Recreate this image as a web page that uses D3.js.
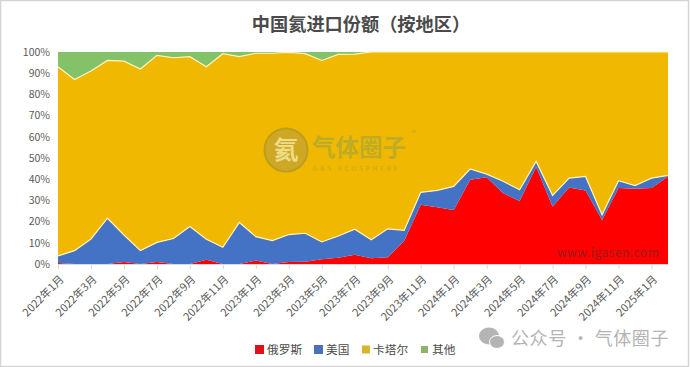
<!DOCTYPE html>
<html>
<head>
<meta charset="utf-8">
<script src="https://cdn.jsdelivr.net/npm/d3@7"></script>
<style>
  html, body { margin: 0; padding: 0; background: #fff; }
  svg { display: block; }
  text { font-family: "Noto Sans CJK SC", "Noto Sans", sans-serif; }
</style>
</head>
<body>
<div id="chart"></div>
<script>
// months on the x axis
const months = [
    "2022年1月", "2022年2月", "2022年3月", "2022年4月", "2022年5月", "2022年6月", "2022年7月", "2022年8月",
    "2022年9月", "2022年10月", "2022年11月", "2022年12月", "2023年1月", "2023年2月", "2023年3月", "2023年4月",
    "2023年5月", "2023年6月", "2023年7月", "2023年8月", "2023年9月", "2023年10月", "2023年11月", "2023年12月",
    "2024年1月", "2024年2月", "2024年3月", "2024年4月", "2024年5月", "2024年6月", "2024年7月", "2024年8月",
    "2024年9月", "2024年10月", "2024年11月", "2024年12月", "2025年1月", "2025年2月"
];
const tickMonths = months.filter((d, i) => i % 2 === 0 && i < 37);
const yTicks = [0, 10, 20, 30, 40, 50, 60, 70, 80, 90, 100];

// share of imports per region, in percent
const russia = [0.5, 0, 0, 0, 1, 0, 1, 0, 0, 2, 0, 0, 1.6, 0, 1, 1.1, 2.2, 3, 4.4, 2.7, 3.2, 11, 27.9, 26.8, 25.5, 39.7, 40.9, 33.4, 29.7, 45.7, 27.1, 36.1, 34.7, 20.8, 35.8, 35.5, 35.8, 41.3];
const usa = [3.3, 6.3, 11.8, 21.6, 12.7, 6.3, 9.2, 12, 17.7, 9.7, 7.9, 19.6, 11.3, 11, 12.9, 13.4, 8.2, 10.2, 12, 8.7, 13.4, 4.9, 5.9, 7.9, 11.1, 5.1, 1.5, 5.6, 5.3, 2.7, 5.2, 4.4, 6.6, 2.4, 3.5, 1.5, 4.7, 0.5];
const qatar = [89.2, 80.7, 79.2, 74.4, 82, 85.7, 88.2, 85.3, 80.1, 81.3, 91.3, 78.2, 86.5, 88.4, 85.9, 84.7, 85.6, 85.7, 82.6, 88.6, 83.4, 84.1, 66.2, 65.3, 63.4, 55.2, 57.6, 61, 65, 51.6, 67.7, 59.5, 58.7, 76.8, 60.7, 63, 59.5, 58.2];
const other = [7, 13, 9, 4, 4.3, 8, 1.6, 2.7, 2.2, 7, 0.8, 2.2, 0.6, 0.6, 0.2, 0.8, 4, 1.1, 1, 0, 0, 0, 0, 0, 0, 0, 0, 0, 0, 0, 0, 0, 0, 0, 0, 0, 0, 0];

const seriesNames = ["俄罗斯", "美国", "卡塔尔", "其他"];
const seriesValues = [russia, usa, qatar, other];
const colors = ["#ff0000", "#4472c4", "#f0b800", "#84c26a"];

const width = 690, height = 367;
const margin = { top: 52, right: 22, bottom: 103, left: 58 };

const svg = d3.select("#chart")
    .append("svg")
    .attr("width", width)
    .attr("height", height);

// light frame round the picture
svg.append("rect")
    .attr("x", 0.5)
    .attr("y", 0.5)
    .attr("width", width - 2)
    .attr("height", height - 1)
    .attr("fill", "#fff")
    .attr("stroke", "#d4d4d4")
    .attr("stroke-width", 1.5);

svg.append("text")
    .attr("x", 361)
    .attr("y", 31)
    .attr("text-anchor", "middle")
    .attr("font-size", 18.2)
    .attr("font-weight", 700)
    .attr("fill", "#4a4a4a")
    .text("中国氦进口份额（按地区）");

const x = d3.scalePoint()
    .domain(months)
    .range([margin.left, width - margin.right]);

const y = d3.scaleLinear()
    .domain([0, 100])
    .range([height - margin.bottom, margin.top]);

// stack the four regions
const rows = months.map((m, i) => {
    const row = { month: m };
    seriesNames.forEach((s, k) => { row[s] = seriesValues[k][i]; });
    return row;
});
const stacked = d3.stack().keys(seriesNames)(rows);

const area = d3.area()
    .x(d => x(d.data.month))
    .y0(d => y(d[0]))
    .y1(d => y(d[1]));

svg.append("g")
    .selectAll("path")
    .data(stacked)
    .join("path")
    .attr("d", area)
    .attr("fill", (d, i) => colors[i]);

// pale outline along the top and bottom of the yellow band
const qatarBand = stacked[2];
svg.append("path")
    .attr("d", d3.line().x(d => x(d.data.month)).y(d => y(d[1]))(qatarBand))
    .attr("fill", "none")
    .attr("stroke", "#fff3c0")
    .attr("stroke-width", 1.2);
svg.append("path")
    .attr("d", d3.line().x(d => x(d.data.month)).y(d => y(d[0]))(qatarBand))
    .attr("fill", "none")
    .attr("stroke", "#fff3c0")
    .attr("stroke-width", 1.2);

// Add X axis
const xAxis = svg.append("g")
    .attr("transform", `translate(0,${height - margin.bottom})`)
    .call(d3.axisBottom(x).tickValues(tickMonths).tickSize(5).tickSizeOuter(0));
xAxis.select(".domain").attr("stroke", "#d9d9d9");
xAxis.selectAll("line").attr("stroke", "#d9d9d9");
xAxis.selectAll("text")
    .attr("font-size", 11)
    .attr("fill", "#595959")
    .attr("dy", null)
    .attr("y", 0)
    .attr("transform", "translate(6,16)rotate(-45)")
    .style("text-anchor", "end");

// Add Y axis
const yAxis = svg.append("g")
    .attr("transform", `translate(${margin.left},0)`)
    .call(d3.axisLeft(y).tickValues(yTicks).tickFormat(d => d + "%").tickSize(0).tickPadding(8));
yAxis.select(".domain").remove();
yAxis.selectAll("text")
    .attr("font-size", 10.5)
    .attr("fill", "#595959");

// logo watermark
const logo = svg.append("g").attr("opacity", 0.85);
logo.append("circle")
    .attr("cx", 286)
    .attr("cy", 150)
    .attr("r", 21.5)
    .attr("fill", "#c9a52c")
    .attr("stroke", "#b59a22")
    .attr("stroke-width", 2);
logo.append("text")
    .attr("x", 286)
    .attr("y", 159)
    .attr("text-anchor", "middle")
    .attr("font-size", 25)
    .attr("font-weight", 700)
    .attr("fill", "#efe3a0")
    .text("氦");
logo.append("text")
    .attr("x", 312)
    .attr("y", 155.5)
    .attr("font-size", 23.5)
    .attr("font-weight", 700)
    .attr("fill", "#b6ab2e")
    .text("气体圈子");
logo.append("text")
    .attr("x", 313)
    .attr("y", 170.5)
    .attr("font-size", 6.5)
    .attr("letter-spacing", 2.8)
    .attr("fill", "#c4a72a")
    .text("GAS ECOSPHERE");
logo.append("text")
    .attr("x", 412)
    .attr("y", 136)
    .attr("font-size", 8)
    .attr("fill", "#c4a72a")
    .text("®");

svg.append("text")
    .attr("x", 557)
    .attr("y", 257)
    .attr("font-size", 12)
    .attr("letter-spacing", 0.5)
    .attr("fill", "#9a1a1a")
    .text("www.igasen.com");

// Add legend
const legendX = [255, 314, 362, 421];
const legendSize = [9, 9, 8, 7];
const legendText = [267, 326, 373, 432];
const legendColors = ["#e0101a", "#4a72b8", "#dcb32c", "#8db56a"];
const legend = svg.append("g");
seriesNames.forEach((s, i) => {
    legend.append("rect")
        .attr("x", legendX[i])
        .attr("y", 349.5 - legendSize[i] / 2)
        .attr("width", legendSize[i])
        .attr("height", legendSize[i])
        .attr("fill", legendColors[i]);
    legend.append("text")
        .attr("x", legendText[i])
        .attr("y", 354)
        .attr("font-size", 11.7)
        .attr("fill", "#4a4a4a")
        .text(s);
});

// account watermark, bottom right
const wechat = svg.append("g").attr("fill", "#b4b4b4");
wechat.append("ellipse").attr("cx", 489).attr("cy", 336).attr("rx", 10).attr("ry", 8.5);
wechat.append("ellipse").attr("cx", 497).attr("cy", 342).attr("rx", 7.5).attr("ry", 6.5).attr("stroke", "#fff");
wechat.append("text")
    .attr("x", 511)
    .attr("y", 345)
    .attr("font-size", 18)
    .attr("letter-spacing", 0.6)
    .text("公众号 · 气体圈子");
</script>
</body>
</html>
